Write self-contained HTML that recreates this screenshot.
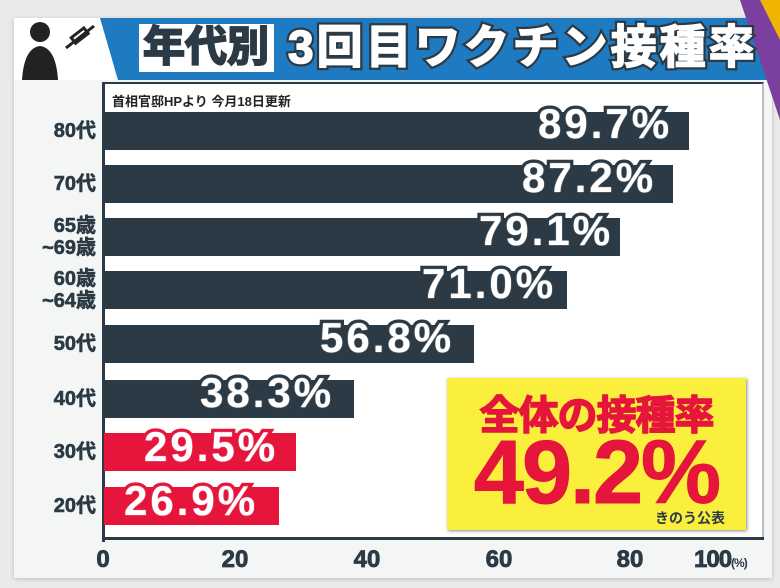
<!DOCTYPE html><html><head><meta charset="utf-8"><style>
body{margin:0;width:780px;height:588px;background:#e9eaea;position:relative;overflow:hidden;font-family:"Liberation Sans","Noto Sans CJK JP",sans-serif;font-weight:bold}
.a{position:absolute}
.bar{position:absolute;left:104px;height:38px}
.v{position:absolute;font-size:42px;font-weight:bold;color:#fff;-webkit-text-stroke:7px #2b3a44;paint-order:stroke fill;letter-spacing:3px;line-height:38px;text-shadow:0 0 1px #fff}
.r .v{-webkit-text-stroke:7px #e5153c}
.lab{position:absolute;width:92px;text-align:right;color:#2b3a44;font-size:20px;line-height:22px;right:684px;-webkit-text-stroke:0.6px #2b3a44}
.tk{position:absolute;top:546px;font-size:24px;color:#2b3a44;transform:translateX(-50%);-webkit-text-stroke:0.8px #2b3a44}
</style></head><body>
<div class="a" style="left:14px;top:18px;width:758px;height:560px;background:#f4f5f5;box-shadow:0 1px 4px #bbb"></div>
<div class="a" style="left:14px;top:18px;width:100px;height:62px;background:#fff"></div>
<svg class="a" style="left:100px;top:18px" width="672" height="62"><polygon points="0,0 672,0 672,62 18,62" fill="#1f7bc1"/></svg>
<svg class="a" style="left:730px;top:0" width="50" height="130"><polygon points="10,0 50,0 50,120" fill="#7b3fa0"/><polygon points="30,0 50,0 50,40" fill="#f0b400"/></svg>
<svg class="a" style="left:18px;top:18px" width="90" height="62"><circle cx="22" cy="14" r="10" fill="#222"/><path d="M4 62 Q6 30 22 28 Q38 30 40 62Z" fill="#222"/><g stroke="#222" stroke-width="3" fill="none"><line x1="48" y1="30" x2="76" y2="8"/><rect x="54" y="14" width="16" height="7" transform="rotate(-38 62 18)"/></g></svg>
<div class="a" style="left:139px;top:24px;width:135px;height:48px;background:#fff"></div>
<div class="a" style="left:143px;top:20px;font-size:42px;color:#2b3a44;line-height:54px;-webkit-text-stroke:2px #2b3a44">年代別</div>
<div class="a" style="left:288px;top:20px;font-size:46px;color:#fff;line-height:54px;-webkit-text-stroke:6px #2b3a44;paint-order:stroke fill;letter-spacing:3px">3回目ワクチン接種率</div>
<div class="a" style="left:288px;top:20px;font-size:46px;color:#fff;line-height:54px;-webkit-text-stroke:1.5px #fff;letter-spacing:3px">3回目ワクチン接種率</div>
<div class="a" style="left:102px;top:82px;width:660px;height:456px;background:#fff;border-top:2px solid #2b3a44;border-right:2px solid #bbb"></div>
<div class="a" style="left:102px;top:82px;width:3px;height:460px;background:#2b3a44"></div>
<div class="a" style="left:102px;top:537px;width:662px;height:3px;background:#2b3a44"></div>
<div class="a" style="left:112px;top:91px;font-size:13px;color:#222">首相官邸HPより 今月18日更新</div>
<div class="bar" style="top:112px;width:585px;background:#2b3a44"></div>
<div class="bar" style="top:165px;width:569px;background:#2b3a44"></div>
<div class="bar" style="top:218px;width:516px;background:#2b3a44"></div>
<div class="bar" style="top:271px;width:463px;background:#2b3a44"></div>
<div class="bar" style="top:325px;width:370px;background:#2b3a44"></div>
<div class="bar" style="top:380px;width:250px;background:#2b3a44"></div>
<div class="bar" style="top:433px;width:192px;background:#e5153c"></div>
<div class="bar" style="top:487px;width:175px;background:#e5153c"></div>
<div class="v" style="left:538px;top:105px">89.7%</div>
<div class="v" style="left:522px;top:159px">87.2%</div>
<div class="v" style="left:479px;top:212px">79.1%</div>
<div class="v" style="left:422px;top:265px">71.0%</div>
<div class="v" style="left:320px;top:319px">56.8%</div>
<div class="v" style="left:200px;top:374px">38.3%</div>
<div class="r"><div class="v" style="left:144px;top:428px">29.5%</div>
<div class="v" style="left:124px;top:482px">26.9%</div></div>
<div class="lab" style="top:120px">80代</div>
<div class="lab" style="top:173px">70代</div>
<div class="lab" style="top:215px">65歳<br>~69歳</div>
<div class="lab" style="top:268px">60歳<br>~64歳</div>
<div class="lab" style="top:333px">50代</div>
<div class="lab" style="top:388px">40代</div>
<div class="lab" style="top:441px">30代</div>
<div class="lab" style="top:495px">20代</div>
<div class="a" style="left:447px;top:378px;width:299px;height:152px;background:#fbef3d;box-shadow:1px 1px 3px #888"></div>
<div class="a" style="left:447px;top:383px;width:299px;text-align:center;font-size:40px;color:#e5153c;-webkit-text-stroke:1.5px #e5153c;letter-spacing:-1px">全体の接種率</div>
<div class="a" style="left:447px;top:428px;width:299px;text-align:center;font-size:90px;color:#e5153c;line-height:90px;letter-spacing:-2px;-webkit-text-stroke:1px #e5153c">49.2%</div>
<div class="a" style="left:655px;top:508px;font-size:14px;color:#2b3a44">きのう公表</div>
<div class="tk" style="left:103px">0</div><div class="tk" style="left:235px">20</div><div class="tk" style="left:367px">40</div><div class="tk" style="left:499px">60</div><div class="tk" style="left:630px">80</div>
<div class="a" style="left:694px;top:546px;font-size:24px;color:#2b3a44;-webkit-text-stroke:0.8px #2b3a44;letter-spacing:-1px">100<span style="font-size:12px;-webkit-text-stroke:0">(%)</span></div>
</body></html>
